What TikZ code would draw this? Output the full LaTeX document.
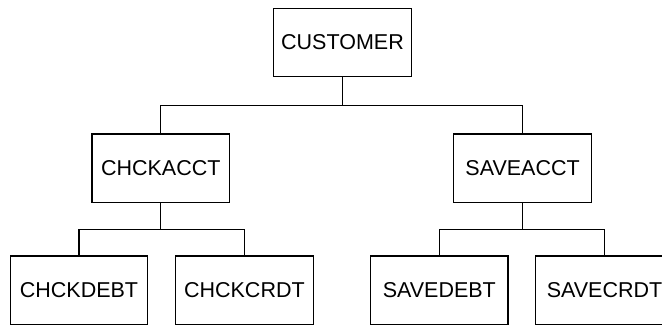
\documentclass[tikz,border=0pt]{standalone}
\usepackage{fontspec}
\setmainfont{Liberation Sans}
\usetikzlibrary{calc}
\begin{document}
\begin{tikzpicture}[x=1pt,y=1pt,
  box/.style={draw, line width=1.2pt, minimum width=137.5pt, minimum height=68.3pt, inner sep=0pt,
    font=\fontsize{21.5}{25}\selectfont},
  link/.style={line width=1.2pt}]
\useasboundingbox (0,0) rectangle (662,326);
\node[box] (cust) at (342.5,283.5) {CUSTOMER};
\node[box] (chck) at (160.8,157.8) {CHCKACCT};
\node[box] (save) at (522.6,157.8) {SAVEACCT};
\node[box] (cdeb) at (79,35.8) {CHCKDEBT};
\node[box] (ccrd) at (244.4,35.8) {CHCKCRDT};
\node[box] (sdeb) at (439.3,35.8) {SAVEDEBT};
\node[box] (scrd) at (604.5,35.8) {SAVECRDT};
\path (cust.south) -- (chck.north) coordinate[pos=0.5] (m1);
\path (chck.south) -- (cdeb.north) coordinate[pos=0.5] (m2);
\draw[link] (cust.south) -- (cust.south |- m1) -| (chck.north);
\draw[link] (cust.south |- m1) -| (save.north);
\draw[link] (chck.south) -- (chck.south |- m2) -| (cdeb.north);
\draw[link] (chck.south |- m2) -| (ccrd.north);
\draw[link] (save.south) -- (save.south |- m2) -| (sdeb.north);
\draw[link] (save.south |- m2) -| (scrd.north);
\end{tikzpicture}
\end{document}
